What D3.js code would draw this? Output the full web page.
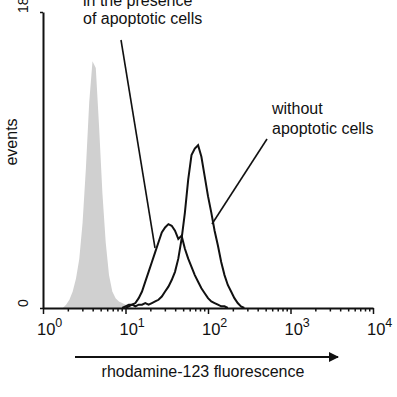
<!DOCTYPE html>
<html>
<head>
<meta charset="utf-8">
<script src="https://cdn.jsdelivr.net/npm/d3@7"></script>
<style>
  body { margin: 0; background: #fff; }
  svg text { font-family: "Liberation Sans", Arial, sans-serif; fill: #111; }
</style>
</head>
<body>
<script>
// histogram bins, log10 of rhodamine-123 fluorescence
const logBins = [0.24,0.28,0.32,0.36,0.40,0.44,0.48,0.52,0.56,0.60,0.64,0.68,0.72,0.76,0.80,0.84,0.88,0.92,0.96,
  1.00,1.04,1.08,1.12,1.16,1.20,1.24,1.28,1.32,1.36,1.40,1.44,1.48,1.52,1.56,1.60,1.64,1.68,1.72,1.76,1.80,1.84,1.88,1.92,1.96,
  2.00,2.04,2.08,2.12,2.16,2.20,2.24,2.28,2.32,2.36,2.40,2.44];

// unstained control (grey fill)
const controlEvents = [0,2,5,10,18,30,52,85,125,150,146,110,70,40,20,10,6,4,3,
  2,1,0,0,0,0,0,0,0,0,0,0,0,0,0,0,0,0,0,0,0,0,0,0,0,
  0,0,0,0,0,0,0,0,0,0,0,0];

// in the presence of apoptotic cells
const withApoptotic = [0,0,0,0,0,0,0,0,0,0,0,0,0,0,0,0,0,0,0,
  1,2,2,3,6,10,16,22,28,34,40,46,49,51,50,47,42,44,36,30,25,20,16,12,9,
  6,4,3,2,1,1,0,0,0,0,0,0];

// without apoptotic cells
const withoutApoptotic = [0,0,0,0,0,0,0,0,0,0,0,0,0,0,0,0,0,0,0,
  0,1,2,1,2,2,3,2,3,4,5,7,10,13,17,22,30,42,58,78,93,97,99,92,80,
  68,58,47,38,28,20,14,10,6,3,1,0];

const xTicksMajor = [1, 10, 100, 1000, 10000];
const xTickExp = ["0", "1", "2", "3", "4"];
const yTicks = [0, 180];

const width = 397, height = 397;

const svg = d3.select("body").append("svg")
    .attr("width", width)
    .attr("height", height);

const x = d3.scaleLog().domain([1, 1e4]).range([43, 373]);
const y = d3.scaleLinear().domain([0, 180]).range([308, 12]);

function pts(vals) {
  let p = logBins.map((b, i) => ({v: Math.pow(10, b), c: vals[i]}));
  // trim long zero runs at both ends, keep one zero
  let first = p.findIndex(d => d.c > 0), last = p.length - 1 - [...p].reverse().findIndex(d => d.c > 0);
  return p.slice(Math.max(0, first - 1), Math.min(p.length, last + 2));
}

// grey control
svg.append("path")
    .datum(pts(controlEvents))
    .attr("fill", "#d0d0d0")
    .attr("d", d3.area().x(d => x(d.v)).y0(y(0)).y1(d => y(d.c)));

const line = d3.line().x(d => x(d.v)).y(d => y(d.c));

svg.append("path")
    .datum(pts(withApoptotic))
    .attr("fill", "none")
    .attr("stroke", "#111")
    .attr("stroke-width", 2)
    .attr("d", line);

svg.append("path")
    .datum(pts(withoutApoptotic))
    .attr("fill", "none")
    .attr("stroke", "#111")
    .attr("stroke-width", 2)
    .attr("d", line);

// x axis
let minor = [];
for (let d = 1; d < 1e4; d *= 10) for (let k = 1; k < 10; k++) minor.push(d * k);
minor.push(1e4);

const xAxis = svg.append("g")
    .attr("transform", "translate(0," + y(0) + ")")
    .call(d3.axisBottom(x).tickValues(minor).tickSizeOuter(0).tickFormat(""));
xAxis.select(".domain").attr("stroke", "#111").attr("stroke-width", 2);
xAxis.selectAll(".tick line")
    .attr("stroke", "#111")
    .attr("stroke-width", 1.5)
    .attr("y2", d => xTicksMajor.includes(d) ? 6 : 3.5);

const xl = svg.append("g").selectAll("text")
    .data(xTicksMajor)
    .join("text")
    .attr("x", d => x(d) - 6)
    .attr("y", 335)
    .style("font-size", "16.5px");
xl.append("tspan").text("10");
xl.append("tspan")
    .attr("dy", -8)
    .style("font-size", "12.5px")
    .text((d, i) => xTickExp[i]);

// y axis
const yAxis = svg.append("g")
    .attr("transform", "translate(" + x(1) + ",0)")
    .call(d3.axisLeft(y).tickValues(yTicks).tickSize(3).tickSizeOuter(0).tickFormat(""));
yAxis.select(".domain").attr("stroke", "#111").attr("stroke-width", 2);
yAxis.selectAll(".tick line").attr("stroke", "#111").attr("stroke-width", 1.5);

svg.append("text")
    .attr("transform", "translate(28," + (y(0) - 5) + ") rotate(-90)")
    .attr("text-anchor", "middle")
    .style("font-size", "14px")
    .text(yTicks[0]);
svg.append("text")
    .attr("transform", "translate(28," + (y(180) + 1) + ") rotate(-90)")
    .attr("text-anchor", "start")
    .style("font-size", "14px")
    .text(yTicks[1]);

svg.append("text")
    .attr("transform", "translate(17,142) rotate(-90)")
    .attr("text-anchor", "middle")
    .style("font-size", "16px")
    .text("events");

// x label with arrow
svg.append("defs").append("marker")
    .attr("id", "arr")
    .attr("viewBox", "0 0 10 10")
    .attr("refX", 9).attr("refY", 5)
    .attr("markerWidth", 11).attr("markerHeight", 10)
    .attr("markerUnits", "userSpaceOnUse")
    .attr("orient", "auto")
    .append("path").attr("d", "M0,0L10,5L0,10Z").attr("fill", "#111");

svg.append("line")
    .attr("x1", 75).attr("x2", 338)
    .attr("y1", 357).attr("y2", 357)
    .attr("stroke", "#111").attr("stroke-width", 2)
    .attr("marker-end", "url(#arr)");

svg.append("text")
    .attr("x", 203).attr("y", 377)
    .attr("text-anchor", "middle")
    .style("font-size", "16px")
    .text("rhodamine-123 fluorescence");

// annotations
const a1 = svg.append("text").style("font-size", "16px");
a1.append("tspan").attr("x", 83).attr("y", 6).text("in the presence");
a1.append("tspan").attr("x", 83).attr("y", 24).text("of apoptotic cells");

const a2 = svg.append("text").style("font-size", "16px");
a2.append("tspan").attr("x", 272).attr("y", 114).text("without");
a2.append("tspan").attr("x", 272).attr("y", 134).text("apoptotic cells");

svg.append("line")
    .attr("x1", 121).attr("y1", 40).attr("x2", 155).attr("y2", 248)
    .attr("stroke", "#111").attr("stroke-width", 1.6);
svg.append("line")
    .attr("x1", 267).attr("y1", 139).attr("x2", 212).attr("y2", 224)
    .attr("stroke", "#111").attr("stroke-width", 1.6);
</script>
</body>
</html>
